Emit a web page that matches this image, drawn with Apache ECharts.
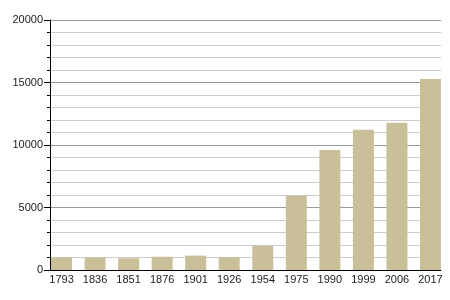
<!DOCTYPE html>
<html><head><meta charset="utf-8">
<script src="https://cdn.jsdelivr.net/npm/echarts@6/dist/echarts.min.js"></script>
<style>html,body{margin:0;padding:0;background:#fff}#c{width:450px;height:300px}</style>
</head><body><div id="c"></div>
<script>
const categories = ['1793','1836','1851','1876','1901','1926','1954','1975','1990','1999','2006','2017'];
const population = [1010, 1000, 940, 1060, 1150, 1040, 1920, 5950, 9600, 11220, 11790, 15280];
const yMin = 0, yMax = 20000, yInterval = 5000;

const chart = echarts.init(document.getElementById('c'), null, {renderer:'canvas'});
const font = 'Liberation Sans, Arial, sans-serif';
chart.setOption({
  animation: false,
  backgroundColor: '#fff',
  grid: [
    {left: 50, right: 9, top: 20, bottom: 30},
    {left: 44.75, right: 2.75, top: 20, bottom: 30}
  ],
  xAxis: [
    {gridIndex: 0, type: 'value', min: 0, max: 1, axisLabel: {show: false}, axisTick: {show: false},
     splitLine: {show: false}, axisLine: {show: true, lineStyle: {color: '#000', width: 1}}, z: 5},
    {gridIndex: 1, type: 'category', data: categories, axisLine: {show: false}, axisTick: {show: false},
     axisLabel: {color: '#222', fontSize: 11, fontFamily: font, margin: 4, interval: 0}}
  ],
  yAxis: [
    {gridIndex: 0, type: 'value', min: yMin, max: yMax, interval: yInterval,
     axisLine: {show: true, lineStyle: {color: '#000', width: 1}},
     axisTick: {show: true, length: 6, lineStyle: {color: '#000'}},
     minorTick: {show: true, splitNumber: 5, length: 3, lineStyle: {color: '#000'}},
     splitLine: {show: true, lineStyle: {color: '#999', width: 1}},
     minorSplitLine: {show: true, lineStyle: {color: '#ccc', width: 1}},
     axisLabel: {color: '#222', fontSize: 11, fontFamily: font, margin: 7, formatter: v => String(v)}, z: 1},
    {gridIndex: 1, type: 'value', min: yMin, max: yMax, show: false}
  ],
  series: [{
    type: 'bar', xAxisIndex: 1, yAxisIndex: 1, data: population, barWidth: 21, z: 3,
    itemStyle: {color: '#c9c09a'}
  }]
});
</script></body></html>
